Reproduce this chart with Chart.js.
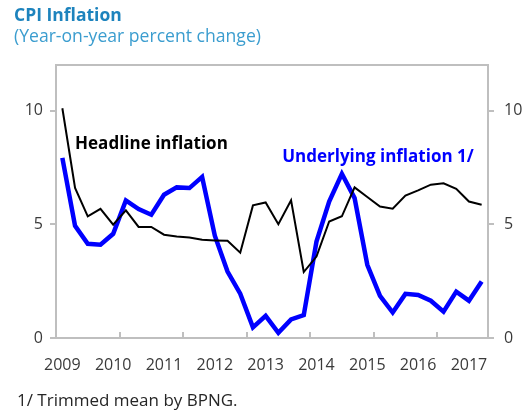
<!DOCTYPE html>
<html>
<head>
<meta charset="utf-8">
<script src="https://cdn.jsdelivr.net/npm/chart.js@4.4.0/dist/chart.umd.min.js"></script>
<style>
  body { margin: 0; background: #fff; }
  #wrap { position: relative; width: 532px; height: 415px; font-family: "Open Sans", sans-serif; }
  #chart { position: absolute; left: 0; top: 0; }
  .txt { position: absolute; white-space: nowrap; line-height: 1.2; }
  #titulo { left: 14px; top: 4px; font-size: 17.5px; font-weight: bold; color: #1d83bd; }
  #subtitulo { left: 14px; top: 25px; font-size: 17.6px; color: #3b9dcf; }
  #nota { left: 17px; top: 390px; font-size: 17px; color: #262626; }
</style>
</head>
<body>
<div id="wrap">
  <canvas id="chart" width="532" height="415"></canvas>
  <div class="txt" id="titulo">CPI Inflation</div>
  <div class="txt" id="subtitulo">(Year-on-year percent change)</div>
  <div class="txt" id="nota">1/ Trimmed mean by BPNG.</div>
</div>
<script>
// Trimestres 2009T1 - 2017T2
const trimestres = [
  '2009T1', '2009T2', '2009T3', '2009T4',
  '2010T1', '2010T2', '2010T3', '2010T4',
  '2011T1', '2011T2', '2011T3', '2011T4',
  '2012T1', '2012T2', '2012T3', '2012T4',
  '2013T1', '2013T2', '2013T3', '2013T4',
  '2014T1', '2014T2', '2014T3', '2014T4',
  '2015T1', '2015T2', '2015T3', '2015T4',
  '2016T1', '2016T2', '2016T3', '2016T4',
  '2017T1', '2017T2'
];

// Etiquetas del eje x (una por año)
const etiquetasAnios = ['2009', '2010', '2011', '2012', '2013', '2014', '2015', '2016', '2017'];

// Inflación general (headline)
const inflacionGeneral = [
  10.1, 6.6, 5.35, 5.68, 4.98, 5.61, 4.88, 4.88, 4.54, 4.46,
  4.42, 4.32, 4.29, 4.27, 3.75, 5.83, 5.96, 5.0, 6.05, 2.9,
  3.58, 5.12, 5.35, 6.62, 6.2, 5.78, 5.68, 6.26, 6.49, 6.74,
  6.8, 6.56, 6.0, 5.86
];

// Inflación subyacente (media recortada)
const inflacionSubyacente = [
  7.92, 4.93, 4.14, 4.1, 4.58, 6.05, 5.67, 5.42, 6.3, 6.62,
  6.59, 7.08, 4.5, 2.92, 1.95, 0.47, 0.97, 0.23, 0.82, 1.01,
  4.24, 6.0, 7.22, 6.15, 3.22, 1.85, 1.12, 1.94, 1.89, 1.64,
  1.16, 2.04, 1.64, 2.48
];

// Ticks del eje y
const ticksY = [0, 5, 10];

const gris = '#bfbfbf';
const colorTexto = '#3a3a3a';

// Rótulos dentro del gráfico
const rotulos = [
  { texto: 'Headline inflation', x: 1, y: 8.5, color: '#000000' },
  { texto: 'Underlying inflation 1/', x: 17.3, y: 7.95, color: '#0000ff' }
];

const pluginRotulos = {
  id: 'rotulos',
  afterDatasetsDraw(chart) {
    const ctx = chart.ctx;
    const sx = chart.scales.x;
    const sy = chart.scales.y;
    ctx.save();
    ctx.font = 'bold 17px "Open Sans", sans-serif';
    ctx.textAlign = 'left';
    ctx.textBaseline = 'middle';
    rotulos.forEach(r => {
      ctx.fillStyle = r.color;
      ctx.fillText(r.texto, sx.getPixelForValue(r.x), sy.getPixelForValue(r.y));
    });
    ctx.restore();
  }
};

function ejeY(posicion, ancho, padding) {
  return {
    position: posicion,
    min: 0,
    max: 12,
    afterBuildTicks: s => { s.ticks = ticksY.map(v => ({ value: v })); },
    afterFit: s => { s.width = ancho; },
    grid: { drawOnChartArea: false, drawTicks: true, tickLength: 6, color: gris, lineWidth: 2 },
    border: { display: true, color: gris, width: 2 },
    ticks: { padding: padding, color: colorTexto, font: { family: 'Open Sans', size: 16 } }
  };
}

new Chart(document.getElementById('chart'), {
  type: 'line',
  data: {
    labels: trimestres,
    datasets: [
      {
        label: 'Headline inflation',
        data: inflacionGeneral,
        borderColor: '#000000',
        borderWidth: 2,
        pointRadius: 0,
        tension: 0,
        yAxisID: 'y'
      },
      {
        label: 'Underlying inflation 1/',
        data: inflacionSubyacente,
        borderColor: '#0000ff',
        borderWidth: 4.5,
        pointRadius: 0,
        tension: 0,
        yAxisID: 'y'
      }
    ]
  },
  options: {
    responsive: false,
    animation: false,
    layout: { padding: 0 },
    plugins: { legend: { display: false }, tooltip: { enabled: false } },
    scales: {
      x: {
        type: 'category',
        position: 'bottom',
        offset: true,
        afterFit: s => { s.height = 77; },
        grid: {
          offset: true,
          drawOnChartArea: false,
          drawTicks: true,
          tickLength: -6,
          lineWidth: 2,
          color: c => (c.index % 5 === 0 ? gris : 'rgba(0,0,0,0)')
        },
        border: { display: true, color: gris, width: 2 },
        ticks: {
          autoSkip: false,
          maxRotation: 0,
          minRotation: 0,
          padding: 24,
          color: colorTexto,
          font: { family: 'Open Sans', size: 16 },
          callback: (v, i) => (i % 4 === 0 ? etiquetasAnios[i / 4] : '')
        }
      },
      xArriba: {
        type: 'category',
        position: 'top',
        afterFit: s => { s.height = 65; },
        grid: { display: false, drawTicks: false },
        border: { display: true, color: gris, width: 2 },
        ticks: { display: false }
      },
      y: ejeY('left', 56, 7),
      y2: ejeY('right', 44, 10)
    }
  },
  plugins: [pluginRotulos]
});
</script>
</body>
</html>
